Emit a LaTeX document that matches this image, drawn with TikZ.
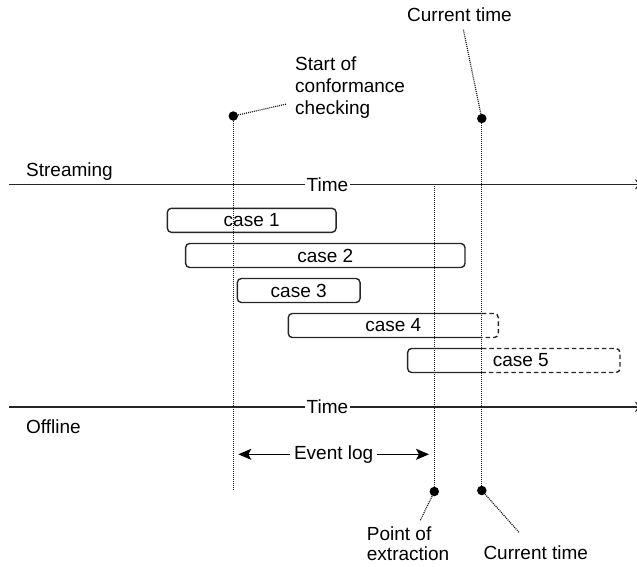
\documentclass[tikz,border=0pt]{standalone}
\usepackage{fontspec}
\setmainfont{Liberation Sans}
\usetikzlibrary{arrows.meta}

\begin{document}
\begin{tikzpicture}[x=1pt,y=-1pt,font=\fontsize{19}{22}\selectfont]
\tikzset{
  axisline/.style={draw=black!85, line width=1.6pt, -{Stealth[length=11pt,width=10pt,inset=3pt]}},
  timelbl/.style={fill=white, inner xsep=1.5pt, inner ysep=2pt},
  guide/.style={draw=black!90, line width=1.2pt, dash pattern=on 1pt off 1pt},
  leader/.style={guide},
  dotmark/.style={circle, fill=black, inner sep=0pt, minimum size=9.5pt},
  casebox/.style={rectangle, rounded corners=4pt, draw=black!85, line width=1.4pt,
    minimum height=24pt, inner sep=0pt, outer sep=0pt},
  caseopen/.style={casebox, draw=none},
  solidedge/.style={draw=black!85, line width=1.4pt, rounded corners=4pt},
  dashedge/.style={solidedge, dash pattern=on 4.5pt off 3pt},
  spanarrow/.style={draw=black, line width=1.4pt,
    {Stealth[length=13pt,width=11pt,inset=3pt]}-{Stealth[length=13pt,width=11pt,inset=3pt]}},
  txt/.style={inner sep=0pt, align=left},
}
\useasboundingbox (0,0) rectangle (637,566);

% time axes
\coordinate (s0) at (9,184.3);
\coordinate (s1) at (646,184.3);
\coordinate (o0) at (9,406.8);
\coordinate (o1) at (646,406.8);
\draw[axisline] (s0) -- node[timelbl] (stime) {Time} (s1);
\draw[axisline] (o0) -- node[timelbl] (otime) {Time} (o1);
\node[txt, anchor=base west] (lstream) at (26,176) {Streaming};
\node[txt, anchor=base west] (loff) at (26,433) {Offline};

% marker dots
\node[dotmark] (start) at (233.3,116) {};
\node[dotmark] (nowtop) at (481.8,118.5) {};
\node[dotmark] (extract) at (434.3,491.5) {};
\node[dotmark] (nowbot) at (481.8,490.5) {};
\coordinate (startend) at (233.3,489.5);

% vertical guides
\draw[guide] (start) -- (startend);
\draw[guide] (extract |- s0) -- (extract);
\draw[guide] (nowtop) -- (nowbot);

% cases
\node[casebox, minimum width=168.7pt] (c1) at (251.7,220.3) {case 1};
\node[casebox, minimum width=279.3pt] (c2) at (325.3,255.5) {case 2};
\node[casebox, minimum width=122.7pt] (c3) at (298.7,290.5) {case 3};
\node[caseopen, minimum width=210pt] (c4) at (393.3,325.5) {case 4};
\node[caseopen, minimum width=212.3pt] (c5) at (513.8,360.5) {\hspace*{14pt}case 5};
\draw[solidedge] (nowtop |- c4.north) -- (c4.north west) -- (c4.south west) -- (nowtop |- c4.south);
\draw[dashedge] (nowtop |- c4.north) -- (c4.north east) -- (c4.south east) -- (nowtop |- c4.south);
\draw[solidedge] (nowtop |- c5.north) -- (c5.north west) -- (c5.south west) -- (nowtop |- c5.south);
\draw[dashedge] (nowtop |- c5.north) -- (c5.north east) -- (c5.south east) -- (nowtop |- c5.south);

% event log span
\coordinate (el0) at (238.3,454.3);
\coordinate (el1) at (429,454.3);
\draw[spanarrow] (el0) -- node[fill=white, inner xsep=4pt, inner ysep=1pt] (evlog) {Event log} (el1);

% annotations
\coordinate (startlead) at (286.7,104);
\coordinate (nowtoplead) at (463.3,29.3);
\coordinate (extractlead) at (420,521);
\coordinate (nowbotlead) at (519.3,532.7);
\draw[leader] (start) -- (startlead);
\draw[leader] (nowtop) -- (nowtoplead);
\draw[leader] (extract) -- (extractlead);
\draw[leader] (nowbot) -- (nowbotlead);

\node[txt, anchor=base west] (tnowtop) at (407,21.7) {Current time};
\node[txt, anchor=north west] (tstart) at (295,57) {Start of\\conformance\\checking};
\node[txt, anchor=north west] (textract) at (366.7,527) {Point of\\[-2pt]extraction};
\node[txt, anchor=base west] (tnowbot) at (483.3,559) {Current time};
\end{tikzpicture}
\end{document}
